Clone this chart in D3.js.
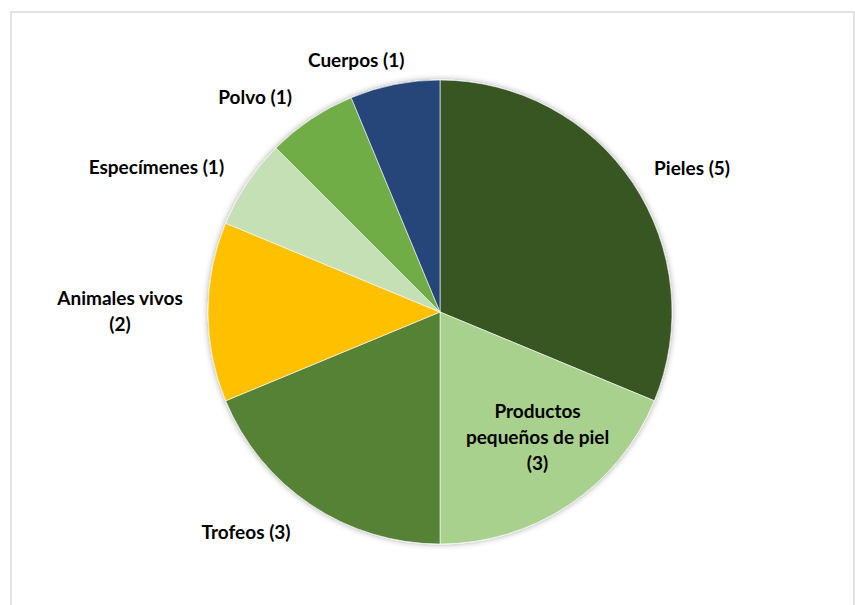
<!DOCTYPE html>
<html>
<head>
<meta charset="utf-8">
<script src="https://cdn.jsdelivr.net/npm/d3@7"></script>
<style>
  html, body { margin: 0; padding: 0; background: #fff; }
  svg { display: block; }
  text { font-family: Lato, "Open Sans", sans-serif; font-weight: 700; fill: #000; }
</style>
</head>
<body>
<svg id="chart" width="855" height="605"></svg>
<script>
// Categories, counts and slice colours
const categories = ["Pieles", "Productos pequeños de piel", "Trofeos", "Animales vivos", "Especímenes", "Polvo", "Cuerpos"];
const counts = [5, 3, 3, 2, 1, 1, 1];
const colors = ["#375623", "#A9D18E", "#548235", "#FFC000", "#C5E0B4", "#70AD47", "#264478"];
// Label text lines per slice
const labelLines = [
  ["Pieles (5)"],
  ["Productos", "pequeños de piel", "(3)"],
  ["Trofeos (3)"],
  ["Animales vivos", "(2)"],
  ["Especímenes (1)"],
  ["Polvo (1)"],
  ["Cuerpos (1)"]
];

const cx = 440, cy = 312, R = 232;

const svg = d3.select("#chart");

// Chart area frame
svg.append("rect")
  .attr("x", 11).attr("y", 12)
  .attr("width", 843).attr("height", 610)
  .attr("fill", "#fff")
  .attr("stroke", "#d9d9d9").attr("stroke-width", 1.5);

// Soft shadow behind the pie
const defs = svg.append("defs");
const f = defs.append("filter").attr("id", "shadow")
  .attr("x", "-10%").attr("y", "-10%").attr("width", "120%").attr("height", "120%");
f.append("feGaussianBlur").attr("in", "SourceAlpha").attr("stdDeviation", 3).attr("result", "b");
f.append("feComponentTransfer").attr("in", "b").attr("result", "s")
  .append("feFuncA").attr("type", "linear").attr("slope", 0.35);
const m = f.append("feMerge");
m.append("feMergeNode").attr("in", "s");
m.append("feMergeNode").attr("in", "SourceGraphic");

const data = categories.map((c, i) => ({ name: c, value: counts[i], color: colors[i], lines: labelLines[i] }));

const pie = d3.pie().value(d => d.value).sort(null);
const arcs = pie(data);
const arc = d3.arc().innerRadius(0).outerRadius(R);

const g = svg.append("g").attr("transform", `translate(${cx},${cy})`);

g.append("g").attr("filter", "url(#shadow)")
  .selectAll("path")
  .data(arcs)
  .join("path")
  .attr("d", arc)
  .attr("fill", d => d.data.color)
  .attr("stroke", "#fff")
  .attr("stroke-width", 0.6);

// Label placement: polar position (radius factor, angle in degrees clockwise from top)
// for the centre of each label block
const labelPolar = [
  { r: 1.251, a: 60.3 },
  { r: 0.686, a: 142.2 },
  { r: 1.264, a: 221.4 },
  { r: 1.379, a: 270.2 },
  { r: 1.372, a: 297.0 },
  { r: 1.222, a: 319.3 },
  { r: 1.144, a: 341.6 }
];

const fontSize = 19, lineH = 26;
const lg = g.append("g");
arcs.forEach((a, i) => {
  const ang = labelPolar[i].a * Math.PI / 180;
  const rr = R * labelPolar[i].r;
  const x = Math.sin(ang) * rr;
  const y = -Math.cos(ang) * rr;
  const lines = a.data.lines;
  const t = lg.append("text")
    .attr("text-anchor", "middle")
    .attr("font-size", fontSize);
  lines.forEach((ln, k) => {
    t.append("tspan")
      .attr("x", x)
      .attr("y", y + (k - (lines.length - 1) / 2) * lineH)
      .attr("dy", "0.35em")
      .text(ln);
  });
});
</script>
</body>
</html>
